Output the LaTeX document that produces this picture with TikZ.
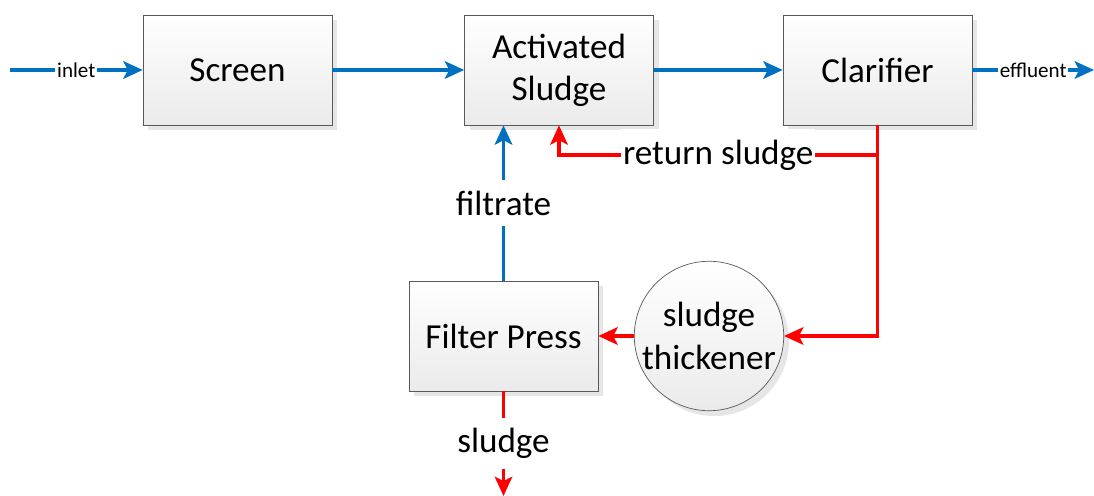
\documentclass[tikz,border=0pt]{standalone}
\usepackage{fontspec}
\setmainfont{Carlito}
\usetikzlibrary{arrows.meta, shadows, positioning}
\definecolor{flowblue}{RGB}{0,112,192}
\tikzset{unit/.style={rectangle,draw=black!65,thin,top color=white,bottom color=black!8,
    minimum width=3.78cm,minimum height=2.2cm,align=center,
    font=\fontsize{20}{24}\selectfont,
    drop shadow={opacity=0.2,shadow xshift=3pt,shadow yshift=-3pt}},
    tank/.style={unit,circle,minimum size=2.84cm,inner sep=0pt},
    water/.style={draw=flowblue,line width=1.8pt,-{Stealth[length=11pt,width=10pt,inset=2.5pt]}},
    waste/.style={draw=red,line width=1.8pt,-{Stealth[length=11pt,width=10pt,inset=2.5pt]}},
    tag/.style={fill=white,inner xsep=1pt,inner ysep=6pt,font=\fontsize{20}{24}\selectfont},
    small tag/.style={fill=white,inner xsep=1pt,inner ysep=2pt,font=\fontsize{12}{14}\selectfont}}
\begin{document}
\begin{tikzpicture}[x=0.02cm, y=-0.02cm]

  \useasboundingbox (0,0) rectangle (1094,496);

  % First we draw the process units

  \foreach \pos/\name/\text in {{(237.5,70)/screen/Screen},
                                {(559,70)/act/Activated\\Sludge},
                                {(877.5,70)/clar/Clarifier},
                                {(503.5,336)/press/Filter Press}}
    \node[unit] (\name) at \pos {\text};

  \node[tank] (thick) at (709,336) {sludge\\thickener};

  % free ends of the flow lines
  \coordinate (in) at (10,70);
  \coordinate (out) at (1094,70);
  \coordinate (cake) at (press.south |- 0,496);
  \coordinate (split) at (clar.south |- 0,155);

  % Water line
  \draw[water] (in) -- node[small tag] {inlet} (screen);
  \draw[water] (screen) -- (act);
  \draw[water] (act) -- (clar);
  \draw[water] (clar) -- node[small tag] {effluent} (out);
  \draw[water] (press.north) -- node[tag] {filtrate} (press.north |- act.south);

  % Sludge line
  \draw[waste] (split) -- node[tag] {return sludge} (split -| act.south) -- (act.south);
  \draw[waste] (clar.south) |- (thick.east);
  \draw[waste] (thick) -- (press);
  \draw[waste] (press.south) -- node[tag] {sludge} (cake);

\end{tikzpicture}
\end{document}
